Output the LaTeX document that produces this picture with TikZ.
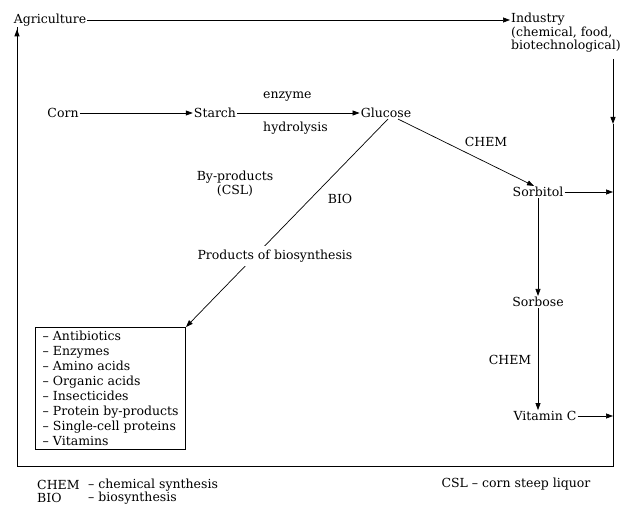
\documentclass[tikz,border=0pt]{standalone}
\usepackage{fontspec}
\setmainfont{DejaVu Serif}
\usetikzlibrary{arrows.meta,calc}
\begin{document}
\begin{tikzpicture}[x=1pt,y=-1pt,
  txt/.style={inner sep=1pt,font=\fontsize{12.5}{14}\selectfont},
  arr/.style={line width=0.7pt,-{Triangle[length=7pt,width=5pt]}},
  frame/.style={line width=1pt}]
\useasboundingbox (0,0) rectangle (622,505);
% nodes
\node[txt] (agri) at (50,20) {Agriculture};
\node[txt,anchor=north west,align=left,font=\fontsize{12.5}{13.5}\selectfont] (ind) at (510,12) {Industry\\(chemical, food,\\biotechnological)};
\node[txt] (corn) at (63,113) {Corn};
\node[txt] (starch) at (215,113) {Starch};
\node[txt] (glu) at (386,113) {Glucose};
\node[txt,anchor=west] (enz) at (262,97) {enzyme};
\node[txt,anchor=west] (hyd) at (262,128) {hydrolysis};
\node[txt] (sorb) at (538,192) {Sorbitol};
\node[txt] (sorbo) at (538,302) {Sorbose};
\node[txt] (vitc) at (545,416) {Vitamin C};
\node[txt] (chem1) at (486,142) {CHEM};
\node[txt] (chem2) at (510,360) {CHEM};
\node[txt,align=center] (byp) at (235,184) {By-products\\(CSL)};
\node[txt] (bio) at (340,199) {BIO};
\node[txt,draw,line width=0.8pt,anchor=north east,align=left,inner xsep=7pt,inner ysep=4pt,
  font=\fontsize{12.5}{14.9}\selectfont] (box) at (186,327)
  {-- Antibiotics\\-- Enzymes\\-- Amino acids\\-- Organic acids\\-- Insecticides\\-- Protein by-products\\-- Single-cell proteins\\-- Vitamins};
% coordinates of the frame
\coordinate (rt) at (613,59);
\coordinate (rm) at (613,124);
\coordinate (rb) at (613,466);
\coordinate (lb) at (17,466);
% connectors
\draw[arr] (agri.east) -- (agri -| ind.west);
\draw[arr,frame] (rt) -- (rm);
\draw[frame] (rm) -- (rb) -- (lb) -- (lb |- agri.south);
\draw[arr,frame] (lb) -- ($(lb |- agri.south)+(0,2)$);
\draw[arr] (corn.east) -- (starch.west);
\draw[arr] (starch.east) -- (glu.west);
\draw[arr] ($(glu.south)+(12,0)$) -- ($(sorb.north)+(-4,0)$);
\draw[arr] (sorb.east) -- (sorb -| rt);
\draw[arr] (sorb.south) -- (sorbo.north);
\draw[arr] (sorbo.south) -- (vitc.north -| sorbo.south);
\draw[arr] (vitc.east) -- (vitc -| rt);
\draw[arr] ($(glu.south)+(2,0)$) -- (box.north east);
\node[txt,fill=white,inner ysep=4pt] (prod) at (275,256) {Products of biosynthesis};
% legend
\node[txt,anchor=west] (lchem) at (36,485) {CHEM};
\node[txt,anchor=west] (lchemt) at (87,485) {-- chemical synthesis};
\node[txt,anchor=west] (lbio) at (36,498) {BIO};
\node[txt,anchor=west] (lbiot) at (87,498) {-- biosynthesis};
\node[txt] (lcsl) at (516,484) {CSL -- corn steep liquor};
\end{tikzpicture}
\end{document}
